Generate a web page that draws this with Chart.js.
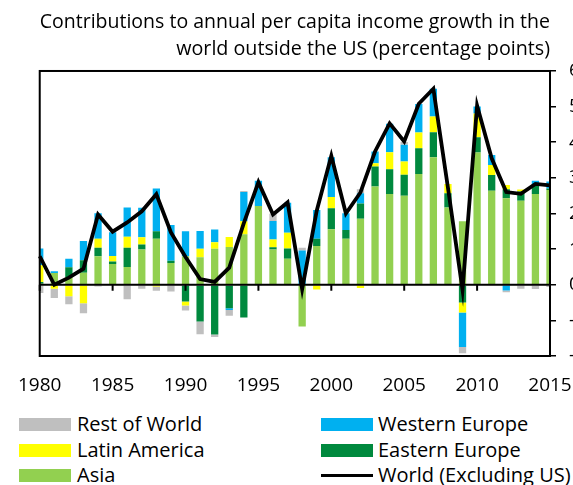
<!DOCTYPE html>
<html>
<head>
<meta charset="utf-8">
<script src="https://cdn.jsdelivr.net/npm/chart.js@4"></script>
<style>
  body { margin: 0; overflow: hidden; background: #fff; font-family: 'Open Sans', sans-serif; }
  #wrap { position: relative; width: 573px; height: 485px; overflow: hidden; }
  #chart { position: absolute; left: 0; top: 0; }
  .item { position: absolute; font-size: 20px; color: #000; line-height: 22px; white-space: nowrap; }
  .sw { position: absolute; height: 13px; }
</style>
</head>
<body>
<div id="wrap">
  <canvas id="chart" width="600" height="400"></canvas>
  <div id="legend"></div>
</div>
<script>
// Years on the x axis
const years = [];
for (let y = 1980; y <= 2015; y++) years.push(y);

// Contributions (percentage points)
const asia = [0.03, 0.33, 0.22, 0.34, 0.8, 0.58, 0.5, 0.99, 1.29, 0.61,
  0.8, 0.77, 1.01, 1.06, 1.42, 2.21, 0.99, 0.73, -1.17, 1.09,
  1.56, 1.29, 1.85, 2.76, 2.55, 2.5, 3.11, 3.58, 2.17, 1.78,
  3.71, 2.64, 2.43, 2.36, 2.55, 2.66];
const easternEurope = [0.05, 0, 0.27, 0.35, 0.24, 0.07, 0.54, 0.14, 0.21, 0.06,
  -0.47, -1.03, -1.4, -0.66, -0.92, 0, 0.06, 0.29, 0, 0.2,
  0.59, 0.25, 0.43, 0.56, 0.69, 0.59, 0.72, 0.7, 0.4, -0.5,
  0.43, 0.44, 0.25, 0.26, 0.28, 0.04];
const latinAmerica = [0.47, -0.11, -0.32, -0.52, 0.25, 0.16, 0.31, 0.2, -0.05, 0,
  -0.11, 0.24, 0.18, 0.28, 0.36, 0, 0.22, 0.44, 0, -0.13,
  0.31, 0, -0.09, 0.09, 0.48, 0.37, 0.44, 0.44, 0.26, -0.28,
  0.67, 0.28, 0.12, 0.05, 0, 0];
const westernEurope = [0.47, 0.05, 0.24, 0.54, 0.72, 0.66, 0.82, 0.83, 1.2, 1.01,
  0.7, 0.5, 0.36, -0.05, 0.82, 0.71, 0.52, 0.84, 0.96, 0.81,
  1.12, 0.47, 0.29, 0.33, 0.8, 0.47, 0.8, 0.78, 0, -0.97,
  0.19, 0.28, -0.16, 0, 0.09, 0.2];
const restOfWorld = [-0.23, -0.26, -0.23, -0.28, -0.05, 0, -0.41, -0.11, -0.12, -0.19,
  -0.14, -0.36, -0.07, -0.16, 0.03, -0.03, 0.2, 0, 0.08, 0,
  0, -0.02, 0.11, 0, 0, 0.08, 0, 0, 0, -0.17,
  0, 0, -0.05, -0.11, -0.12, -0.06];
const worldExUS = [0.8, 0.0, 0.2, 0.45, 1.97, 1.49, 1.75, 2.06, 2.54, 1.47,
  0.78, 0.16, 0.08, 0.48, 1.73, 2.88, 1.97, 2.31, -0.12, 2.08,
  3.62, 2.0, 2.59, 3.74, 4.53, 4.02, 5.08, 5.5, 2.72, -0.14,
  5.03, 3.55, 2.6, 2.55, 2.83, 2.79];

const FONT = 'Open Sans';

const bar = (label, data, color) => ({
  type: 'bar', label, data, backgroundColor: color, borderWidth: 0,
  stack: 'regions', barPercentage: 0.5, categoryPercentage: 1.0
});

const datasets = [
  bar('Asia', asia, '#92D050'),
  bar('Eastern Europe', easternEurope, '#00893E'),
  bar('Latin America', latinAmerica, '#FFFF00'),
  bar('Western Europe', westernEurope, '#00B0F0'),
  bar('Rest of World', restOfWorld, '#BFBFBF'),
  {
    type: 'line', label: 'World (Excluding US)', data: worldExUS,
    borderColor: '#000', borderWidth: 3.8, pointRadius: 0, tension: 0,
    stack: 'world', order: -1, borderJoinStyle: 'miter'
  }
];

// zero line and the small year ticks under it, drawn just before the world line
const zeroLine = {
  id: 'zeroLine',
  beforeDatasetDraw(chart, args) {
    if (args.index !== 5) return;
    const { ctx, chartArea, scales } = chart;
    const y0 = scales.y.getPixelForValue(0);
    ctx.save();
    ctx.strokeStyle = '#000';
    ctx.lineWidth = 2;
    ctx.beginPath();
    ctx.moveTo(chartArea.left, y0);
    ctx.lineTo(chartArea.right, y0);
    ctx.stroke();
    years.forEach((yr, i) => {
      if (yr % 5 !== 0) return;
      const x = scales.x.getPixelForValue(i);
      ctx.beginPath();
      ctx.moveTo(x, y0);
      ctx.lineTo(x, y0 + 6);
      ctx.stroke();
    });
    ctx.restore();
  },
  afterDraw(chart) {
    const { ctx, chartArea } = chart;
    ctx.save();
    ctx.strokeStyle = '#000';
    ctx.lineWidth = 2;
    ctx.strokeRect(chartArea.left, chartArea.top,
      chartArea.right - chartArea.left, chartArea.bottom - chartArea.top);
    ctx.restore();
  }
};

new Chart(document.getElementById('chart'), {
  type: 'bar',
  data: { labels: years.map(String), datasets },
  options: {
    responsive: false,
    animation: false,
    layout: { padding: { left: 31, right: 0, top: 0, bottom: 0 } },
    plugins: {
      legend: { display: false },
      tooltip: { enabled: false },
      title: {
        display: true,
        text: ['Contributions to annual per capita income growth in the',
               'world outside the US (percentage points)'],
        align: 'end',
        fullSize: false,
        color: '#000',
        font: { family: FONT, size: 19.7, weight: 'normal', lineHeight: 1.37 },
        padding: { top: 9, bottom: 8 }
      }
    },
    scales: {
      x: {
        offset: false,
        stacked: true,
        grid: { display: false, drawTicks: false },
        border: { display: true, color: '#000', width: 2 },
        ticks: {
          autoSkip: false, maxRotation: 0, padding: 18,
          color: '#000', font: { family: FONT, size: 19 },
          callback: (v, i) => (years[i] % 5 === 0 ? String(years[i]) : null)
        },
        afterFit: (s) => { s.height = 44; }
      },
      y: {
        position: 'right',
        stacked: true,
        min: -2, max: 6,
        grid: { drawOnChartArea: false, tickLength: 6, tickColor: '#000', lineWidth: 1.5 },
        border: { display: true, color: '#000', width: 2 },
        ticks: { stepSize: 1, padding: 13, color: '#000', font: { family: FONT, size: 19 } },
        afterFit: (s) => { s.width = 50; }
      }
    }
  },
  plugins: [zeroLine]
});

// legend laid out in two columns like the original
const legendItems = [
  { label: 'Rest of World', color: '#BFBFBF', col: 0, row: 0 },
  { label: 'Latin America', color: '#FFFF00', col: 0, row: 1 },
  { label: 'Asia', color: '#92D050', col: 0, row: 2 },
  { label: 'Western Europe', color: '#00B0F0', col: 1, row: 0 },
  { label: 'Eastern Europe', color: '#00893E', col: 1, row: 1 },
  { label: 'World (Excluding US)', color: '#000', col: 1, row: 2, line: true }
];
const legend = document.getElementById('legend');
const colX = [[19, 52, 77], [321, 52, 378]];
const rowY = [424.5, 450.5, 475.5];
legendItems.forEach(it => {
  const [sx, sw, tx] = colX[it.col];
  const cy = rowY[it.row];
  const s = document.createElement('div');
  s.className = 'sw';
  s.style.left = sx + 'px';
  s.style.width = sw + 'px';
  s.style.background = it.color;
  if (it.line) { s.style.height = '3px'; s.style.top = (cy - 1.5) + 'px'; }
  else s.style.top = (cy - 6.5) + 'px';
  legend.appendChild(s);
  const t = document.createElement('div');
  t.className = 'item';
  t.textContent = it.label;
  t.style.left = tx + 'px';
  t.style.top = (cy - 12) + 'px';
  legend.appendChild(t);
});
</script>
</body>
</html>
